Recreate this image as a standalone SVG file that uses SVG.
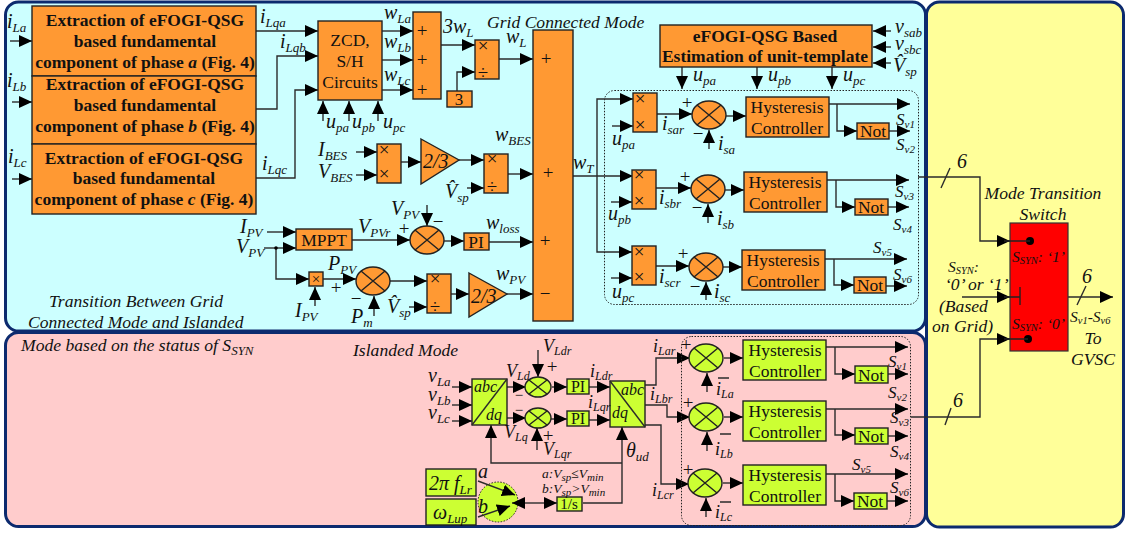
<svg xmlns="http://www.w3.org/2000/svg" width="1125" height="533" viewBox="0 0 1125 533">
<style>
text{font-family:"Liberation Serif","Times New Roman",serif;fill:#111}
.panel{stroke:#0c2a6e;stroke-width:3}
.o{fill:#ff9933;stroke:#222;stroke-width:1.4}
.g{fill:#ccff33;stroke:#222;stroke-width:1.4}
.r{fill:#ff0000;stroke:#333;stroke-width:1.2}
.w{fill:none;stroke:#2b2b2b;stroke-width:1.4}
.a{fill:none;stroke:#2b2b2b;stroke-width:1.4;marker-end:url(#arrow)}
.dot{fill:none;stroke:#222;stroke-width:1;stroke-dasharray:1.5 1.5}
.t{font-style:italic;font-size:20px}
.s{font-size:13px;baseline-shift:-4px}
.n{font-style:italic;font-size:17.6px}
.bt{font-weight:bold;font-size:17.5px;text-anchor:middle}
.c{font-size:17.5px;text-anchor:middle}
.m{font-size:15px;text-anchor:middle}
.p{font-size:19px;text-anchor:middle}
.e{font-style:italic;font-size:16px}
.sm{font-style:italic;font-size:13.5px}
.sm .s{font-size:11px;baseline-shift:-3px}
.sw{font-style:italic;font-size:15.5px}
.sw .s{font-size:10.5px;baseline-shift:-2px}
.sv{font-style:italic;font-size:17px}
.sv .s{font-size:11px;baseline-shift:-3px}
.il{font-style:italic;font-size:18px}
.il .s{font-size:12px;baseline-shift:-3px}
</style>
<defs>
<marker id="arrow" markerUnits="userSpaceOnUse" markerWidth="14" markerHeight="13" refX="13" refY="6" orient="auto"><path d="M0,0L13,6L0,12Z" fill="#000"/></marker>
<g id="sum"><ellipse rx="17" ry="14"/><path d="M-12,-10L12,10M-12,10L12,-10" fill="none"/></g>
<g id="sumS"><ellipse rx="13" ry="10"/><path d="M-9,-7L9,7M-9,7L9,-7" fill="none"/></g>
</defs>

<g id="panels">
<rect class="panel" x="5.500" y="2" width="920" height="329" rx="13" fill="#ccffff"/>
<rect class="panel" x="5.500" y="332.500" width="920" height="194" rx="13" fill="#ffcccc"/>
<rect class="panel" x="926.500" y="2" width="197" height="525" rx="13" fill="#ffff99"/>
</g>

<g id="selector"><circle cx="498" cy="502" r="20" fill="#ccff33" stroke="#222" stroke-dasharray="1.5 1.5"/></g>

<g id="connectors">
<path class="a" d="M10,41H32"/><path class="a" d="M12,102H32"/><path class="a" d="M12,179H32"/>
<path class="a" d="M256,31H318"/><path class="a" d="M256,109H277V56H318"/><path class="a" d="M256,178H295V90H318"/>
<path class="a" d="M323,121V101"/><path class="a" d="M349,121V101"/><path class="a" d="M378,121V101"/>
<path class="a" d="M382,31H413"/><path class="a" d="M382,60H413"/><path class="a" d="M382,90H413"/>
<path class="a" d="M441,45H475"/><path class="a" d="M457,91V72H475"/><path class="a" d="M499,59H533"/>
<path class="a" d="M356,152H377"/><path class="a" d="M356,175H377"/><path class="a" d="M401,162H421"/>
<path class="a" d="M459,160H484"/><path class="a" d="M467,188H484"/><path class="a" d="M508,174H533"/>
<path class="a" d="M267,232H296"/><path class="a" d="M264,248H296"/><path class="a" d="M276,248V279H309"/>
<path class="a" d="M315,306V287"/><path class="a" d="M323,279H356"/><path class="a" d="M374,316V296"/>
<path class="a" d="M390,281H427"/><path class="a" d="M409,307H427"/><path class="a" d="M451,294H469"/><path class="a" d="M507,294H533"/>
<path class="a" d="M352,240H410"/><path class="a" d="M427,205V226"/><path class="a" d="M444,241H464"/><path class="a" d="M489,242H533"/>
<path class="a" d="M573,176H633"/><path class="a" d="M597,176V99H633"/><path class="a" d="M597,176V252H632"/>
<path class="a" d="M891,31H873"/><path class="a" d="M891,47H873"/><path class="a" d="M891,63H873"/>
<path class="a" d="M682,67V89"/><path class="a" d="M757,67V89"/><path class="a" d="M832,67V89"/>
<path class="a" d="M612,126H633"/><path class="a" d="M657,114H692"/><path class="a" d="M709,149V130"/><path class="a" d="M726,116H746"/>
<path class="a" d="M829,104H910"/><path class="a" d="M837,104V131H857"/><path class="a" d="M889,131H910"/>
<path class="a" d="M611,202H632"/><path class="a" d="M656,188H691"/><path class="a" d="M708,223V204"/><path class="a" d="M725,190H744"/>
<path class="a" d="M827,180H909"/><path class="a" d="M836,180V207H855"/><path class="a" d="M888,207H909"/>
<path class="a" d="M611,278H632"/><path class="a" d="M656,266H689"/><path class="a" d="M706,300V282"/><path class="a" d="M723,267H742"/>
<path class="a" d="M825,259H907"/><path class="a" d="M834,259V285H854"/><path class="a" d="M886,286H907"/>
<path class="a" d="M918,177H980V241H1010"/><path class="w" d="M941,188L950,168"/>
<path class="a" d="M911,417H980V339H1010"/><path class="w" d="M945,425L951,408"/>
<path class="a" d="M962,297H1010"/><path class="a" d="M1068,297H1113"/><path class="w" d="M1077,305L1086,286"/>
<path class="a" d="M452,387H472"/><path class="a" d="M452,405H472"/><path class="a" d="M452,421H472"/>
<path class="a" d="M507,387H526"/><path class="a" d="M507,418H526"/><path class="a" d="M538,350V377"/><path class="a" d="M537,450V428"/>
<path class="a" d="M552,387H567"/><path class="a" d="M551,419H567"/><path class="a" d="M589,387H610"/><path class="a" d="M589,420H610"/>
<path class="a" d="M583,503H622V427"/><path class="a" d="M622,463H491V425"/>
<path class="a" d="M478,481L515,495"/><path class="a" d="M478,517L510,506"/><path class="a" d="M530,503H512"/><path class="a" d="M530,503H557"/>
<path class="a" d="M645,385H656V358H690"/><path class="a" d="M645,405H667V417H690"/><path class="a" d="M645,425H661V484H689"/>
<path class="a" d="M707,392V373"/><path class="a" d="M724,358H743"/><path class="a" d="M826,347H908"/><path class="a" d="M835,347V374H855"/><path class="a" d="M888,374H908"/>
<path class="a" d="M707,451V432"/><path class="a" d="M724,417H743"/><path class="a" d="M826,409H908"/><path class="a" d="M835,409V435H855"/><path class="a" d="M888,436H908"/>
<path class="a" d="M706,517V498"/><path class="a" d="M723,483H743"/><path class="a" d="M826,474H908"/><path class="a" d="M835,474V501H854"/><path class="a" d="M887,501H908"/>
<path class="w" d="M718,378H729M720,434H731M720,502H731"/>
</g>

<g id="groups">
<rect class="dot" x="604.500" y="90.500" width="314" height="214" rx="10"/>
<rect class="dot" x="681.500" y="336.500" width="229" height="189" rx="10"/>
</g>

<g id="phase-a"><rect class="o" x="32" y="6" width="224" height="70"/>
<text class="bt" x="145" y="26">Extraction of eFOGI-QSG</text><text class="bt" x="145" y="47">based fundamental</text><text class="bt" x="145" y="68">component of phase <tspan font-style="italic">a</tspan> (Fig. 4)</text></g>
<g id="phase-b"><rect class="o" x="32" y="76" width="224" height="68"/>
<text class="bt" x="145" y="90">Extraction of eFOGI-QSG</text><text class="bt" x="145" y="111">based fundamental</text><text class="bt" x="145" y="132">component of phase <tspan font-style="italic">b</tspan> (Fig. 4)</text></g>
<g id="phase-c"><rect class="o" x="32" y="144" width="224" height="70"/>
<text class="bt" x="144" y="164">Extraction of eFOGI-QSG</text><text class="bt" x="144" y="184">based fundamental</text><text class="bt" x="144" y="205">component of phase <tspan font-style="italic">c</tspan> (Fig. 4)</text></g>

<g id="zcd"><rect class="o" x="318" y="21" width="64" height="79"/>
<text class="c" x="350" y="46">ZCD,</text><text class="c" x="350" y="67">S/H</text><text class="c" x="350" y="88">Circuits</text></g>
<g id="sum-w"><rect class="o" x="413" y="12" width="28" height="87"/>
<text class="p" x="422" y="37">+</text><text class="p" x="422" y="66">+</text><text class="p" x="422" y="96">+</text></g>
<g id="div-wl"><rect class="o" x="475" y="40" width="24" height="39"/>
<text class="p" x="483" y="52">×</text><text class="p" x="483" y="79">÷</text></g>
<g id="three"><rect class="o" x="447" y="91" width="25" height="16"/><text x="459" y="105" font-size="17" text-anchor="middle">3</text></g>
<g id="sum-t"><rect class="o" x="533" y="30" width="40" height="291"/>
<text class="p" x="546" y="65">+</text><text class="p" x="548" y="179">+</text><text class="p" x="545" y="247">+</text><text class="p" x="545" y="300">−</text></g>
<g id="mul-bes"><rect class="o" x="377" y="144" width="24" height="39"/><text class="p" x="384" y="156">×</text><text class="p" x="384" y="180">×</text></g>
<g id="gain-bes"><path class="o" d="M421,139L459,160L421,184Z"/><text x="423" y="168" font-size="20" font-style="italic">2/3</text></g>
<g id="div-bes"><rect class="o" x="484" y="154" width="24" height="39"/><text class="p" x="492" y="165">×</text><text class="p" x="492" y="193">÷</text></g>
<g id="mppt"><rect class="o" x="296" y="229" width="56" height="21"/><text class="c" x="324" y="246">MPPT</text></g>
<g id="mul-pv"><rect class="o" x="309" y="272" width="14" height="14"/><text class="m" x="316" y="284">×</text></g>
<g id="sum-p"><use href="#sum" x="373" y="281" class="o"/></g>
<g id="div-pv"><rect class="o" x="427" y="274" width="24" height="39"/><text class="p" x="435" y="285">×</text><text class="p" x="435" y="313">÷</text></g>
<g id="gain-pv"><path class="o" d="M469,273L507,294L469,317Z"/><text x="471" y="303" font-size="20" font-style="italic">2/3</text></g>
<g id="sum-v"><use href="#sum" x="427" y="240" class="o"/></g>
<g id="pi-v"><rect class="o" x="464" y="233" width="25" height="17"/><text class="c" x="476" y="248">PI</text></g>
<g id="unit"><rect class="o" x="660" y="25" width="212" height="42"/>
<text class="bt" x="765" y="42">eFOGI-QSG Based</text><text class="bt" x="765" y="62">Estimation of unit-template</text></g>

<g id="row-a"><rect class="o" x="633" y="93" width="24" height="39"/><text class="p" x="640" y="105">×</text><text class="p" x="640" y="131">×</text><use href="#sum" x="709" y="115" class="o"/>
<rect class="o" x="746" y="97" width="83" height="40"/><text class="c" x="787" y="113">Hysteresis</text><text class="c" x="787" y="134">Controller</text>
<rect class="o" x="857" y="123" width="32" height="16"/><text class="c" x="873" y="137">Not</text></g>
<g id="row-b"><rect class="o" x="632" y="170" width="24" height="39"/><text class="p" x="639" y="181">×</text><text class="p" x="639" y="207">×</text><use href="#sum" x="708" y="189" class="o"/>
<rect class="o" x="744" y="172" width="83" height="40"/><text class="c" x="785" y="188">Hysteresis</text><text class="c" x="785" y="209">Controller</text>
<rect class="o" x="855" y="199" width="33" height="16"/><text class="c" x="871" y="213">Not</text></g>
<g id="row-c"><rect class="o" x="632" y="246" width="24" height="39"/><text class="p" x="639" y="258">×</text><text class="p" x="639" y="283">×</text><use href="#sum" x="706" y="267" class="o"/>
<rect class="o" x="742" y="250" width="83" height="40"/><text class="c" x="783" y="266">Hysteresis</text><text class="c" x="783" y="287">Controller</text>
<rect class="o" x="854" y="277" width="32" height="16"/><text class="c" x="870" y="291">Not</text></g>

<g id="switch"><rect class="r" x="1010" y="223" width="58" height="128"/><circle cx="1030" cy="241" r="4" fill="#000"/><circle cx="1028" cy="339" r="4" fill="#000"/>
<path d="M1004,241H1030M1004,339H1028M1004,297H1020M1020,287V305" fill="none" stroke="#222" stroke-width="1.4"/>
<text class="sw" x="1012" y="262">S<tspan class="s">SYN</tspan>: ‘1’</text><text class="sw" x="1012" y="329">S<tspan class="s">SYN</tspan>: ‘0’</text></g>

<g id="abc-dq"><rect class="g" x="472" y="379" width="35" height="46"/><path class="w" d="M507,379L472,425"/><text class="e" x="474" y="392">abc</text><text class="e" x="486" y="420">dq</text></g>
<g id="sum-d"><use href="#sumS" x="538" y="387" class="g"/></g>
<g id="sum-q"><use href="#sumS" x="538" y="418" class="g"/></g>
<g id="pi-d"><rect class="g" x="567" y="379" width="22" height="15"/><text x="578" y="392" font-size="16" text-anchor="middle">PI</text></g>
<g id="pi-q"><rect class="g" x="567" y="411" width="22" height="15"/><text x="578" y="424" font-size="16" text-anchor="middle">PI</text></g>
<g id="dq-abc"><rect class="g" x="610" y="381" width="35" height="46"/><path class="w" d="M610,381L645,427"/><text class="e" x="621" y="395">abc</text><text class="e" x="612" y="418">dq</text></g>
<g id="f-lr"><rect class="g" x="426" y="469" width="50" height="27"/><text x="429" y="490" font-size="20" font-style="italic">2π f<tspan class="s">Lr</tspan></text></g>
<g id="w-lup"><rect class="g" x="426" y="499" width="50" height="26"/><text x="433" y="519" font-size="20" font-style="italic">ω<tspan class="s">Lup</tspan></text></g>
<g id="int"><rect class="g" x="557" y="497" width="25" height="14"/><text x="569" y="509" font-size="15" text-anchor="middle">1/s</text></g>

<g id="row-1"><use href="#sum" x="706" y="358" class="g"/><rect class="g" x="743" y="340" width="83" height="40"/><text class="c" x="785" y="356">Hysteresis</text><text class="c" x="785" y="377">Controller</text><rect class="g" x="855" y="366" width="33" height="17"/><text class="c" x="871" y="381">Not</text></g>
<g id="row-2"><use href="#sum" x="706" y="417" class="g"/><rect class="g" x="743" y="401" width="83" height="40"/><text class="c" x="785" y="417">Hysteresis</text><text class="c" x="785" y="438">Controller</text><rect class="g" x="855" y="428" width="33" height="16"/><text class="c" x="871" y="442">Not</text></g>
<g id="row-3"><use href="#sum" x="705" y="483" class="g"/><rect class="g" x="743" y="465" width="83" height="40"/><text class="c" x="785" y="481">Hysteresis</text><text class="c" x="785" y="502">Controller</text><rect class="g" x="854" y="493" width="33" height="16"/><text class="c" x="870" y="507">Not</text></g>

<circle cx="276" cy="248" r="1.800" fill="#000"/>

<g id="labels">
<text class="t" x="7" y="28">i<tspan class="s">La</tspan></text><text class="t" x="7" y="87">i<tspan class="s">Lb</tspan></text><text class="t" x="8" y="163">i<tspan class="s">Lc</tspan></text>
<text class="t" x="260" y="23">i<tspan class="s">Lqa</tspan></text><text class="t" x="280" y="48">i<tspan class="s">Lqb</tspan></text><text class="t" x="262" y="170">i<tspan class="s">Lqc</tspan></text>
<text class="t" x="326" y="128">u<tspan class="s">pa</tspan></text><text class="t" x="352" y="128">u<tspan class="s">pb</tspan></text><text class="t" x="383" y="128">u<tspan class="s">pc</tspan></text>
<text class="t" x="384" y="19">w<tspan class="s">La</tspan></text><text class="t" x="384" y="48">w<tspan class="s">Lb</tspan></text><text class="t" x="384" y="81">w<tspan class="s">Lc</tspan></text>
<text class="t" x="443" y="33">3w<tspan class="s">L</tspan></text><text class="t" x="506" y="43">w<tspan class="s">L</tspan></text>
<text class="n" x="487" y="28">Grid Connected Mode</text>
<text class="t" x="318" y="156">I<tspan class="s">BES</tspan></text><text class="t" x="318" y="178">V<tspan class="s">BES</tspan></text>
<text class="t" x="495" y="141">w<tspan class="s">BES</tspan></text><text class="t" x="573" y="169">w<tspan class="s">T</tspan></text>
<text class="t" x="445" y="198">V̂<tspan class="s">sp</tspan></text>
<text class="t" x="240" y="233">I<tspan class="s">PV</tspan></text><text class="t" x="236" y="253">V<tspan class="s">PV</tspan></text>
<text class="t" x="295" y="317">I<tspan class="s">PV</tspan></text><text class="t" x="328" y="270">P<tspan class="s">PV</tspan></text>
<text class="p" x="336" y="294">+</text><text class="p" x="356" y="305">−</text>
<text class="t" x="351" y="323">P<tspan class="s">m</tspan></text><text class="t" x="387" y="313">V̂<tspan class="s">sp</tspan></text>
<text class="t" x="358" y="233">V<tspan class="s">PVr</tspan></text><text class="p" x="404" y="235">+</text><text class="t" x="391" y="215">V<tspan class="s">PV</tspan></text><text class="p" x="438" y="228">−</text>
<text class="t" x="486" y="229">w<tspan class="s">loss</tspan></text><text class="t" x="496" y="280">w<tspan class="s">PV</tspan></text>
<text class="t" x="895" y="33">v<tspan class="s">sab</tspan></text><text class="t" x="895" y="50">v<tspan class="s">sbc</tspan></text><text class="t" x="893" y="72">V̂<tspan class="s">sp</tspan></text>
<text class="t" x="693" y="81">u<tspan class="s">pa</tspan></text><text class="t" x="768" y="81">u<tspan class="s">pb</tspan></text><text class="t" x="843" y="81">u<tspan class="s">pc</tspan></text>
<text class="t" x="612" y="145">u<tspan class="s">pa</tspan></text><text class="t" x="662" y="130">i<tspan class="s">sar</tspan></text><text class="p" x="687" y="109">+</text><text class="p" x="698" y="140">−</text><text class="t" x="718" y="150">i<tspan class="s">sa</tspan></text>
<text class="sv" x="896" y="125">S<tspan class="s">v1</tspan></text><text class="sv" x="896" y="150">S<tspan class="s">v2</tspan></text>
<text class="t" x="608" y="220">u<tspan class="s">pb</tspan></text><text class="t" x="659" y="204">i<tspan class="s">sbr</tspan></text><text class="p" x="685" y="183">+</text><text class="p" x="697" y="214">−</text><text class="t" x="717" y="225">i<tspan class="s">sb</tspan></text>
<text class="sv" x="895" y="197">S<tspan class="s">v3</tspan></text><text class="sv" x="893" y="230">S<tspan class="s">v4</tspan></text>
<text class="t" x="612" y="298">u<tspan class="s">pc</tspan></text><text class="t" x="659" y="283">i<tspan class="s">scr</tspan></text><text class="p" x="683" y="260">+</text><text class="p" x="695" y="293">−</text><text class="t" x="714" y="298">i<tspan class="s">sc</tspan></text>
<text class="sv" x="873" y="253">S<tspan class="s">v5</tspan></text><text class="sv" x="893" y="280">S<tspan class="s">v6</tspan></text>
<text class="t" x="957" y="168">6</text><text class="t" x="953" y="407">6</text><text class="t" x="1082" y="283">6</text>
<text class="n" x="1043" y="199" text-anchor="middle">Mode Transition</text><text class="n" x="1043" y="220" text-anchor="middle">Switch</text>
<text class="sw" x="948" y="272">S<tspan class="s">SYN</tspan>:</text><text class="n" x="945" y="290">‘0’ or ‘1’</text><text class="n" x="939" y="312">(Based</text><text class="n" x="932" y="332">on Grid)</text>
<text class="sw" x="1070" y="322">S<tspan class="s">v1</tspan>-S<tspan class="s">v6</tspan></text><text class="n" x="1093" y="344" text-anchor="middle">To</text><text class="n" x="1093" y="365" text-anchor="middle">GVSC</text>
<text class="n" x="49" y="307">Transition Between Grid</text><text class="n" x="28" y="328">Connected Mode and Islanded</text><text class="n" x="21" y="351">Mode based on the status of S<tspan class="s">SYN</tspan></text>
<text class="n" x="353" y="356">Islanded Mode</text>
<text class="t" x="428" y="382">v<tspan class="s">La</tspan></text><text class="t" x="428" y="401">v<tspan class="s">Lb</tspan></text><text class="t" x="428" y="419">v<tspan class="s">Lc</tspan></text>
<text class="il" x="506" y="377">V<tspan class="s">Ld</tspan></text><text class="il" x="504" y="438">V<tspan class="s">Lq</tspan></text><text class="il" x="543" y="352">V<tspan class="s">Ldr</tspan></text><text class="il" x="543" y="455">V<tspan class="s">Lqr</tspan></text>
<text class="m" x="519" y="400">−</text><text class="m" x="519" y="415">−</text><text class="p" x="552" y="373">+</text><text class="p" x="548" y="442">+</text>
<text class="il" x="590" y="377">i<tspan class="s">Ldr</tspan></text><text class="il" x="588" y="408">i<tspan class="s">Lqr</tspan></text>
<text class="t" x="626" y="457">θ<tspan class="s">ud</tspan></text>
<text class="t" x="478" y="478">a</text><text class="t" x="478" y="513">b</text>
<text class="sm" x="542" y="478">a:V<tspan class="s">sp</tspan>≤V<tspan class="s">min</tspan></text><text class="sm" x="542" y="493">b:V<tspan class="s">sp</tspan>&gt;V<tspan class="s">min</tspan></text>
<text class="il" x="653" y="352">i<tspan class="s">Lar</tspan></text><text class="il" x="650" y="400">i<tspan class="s">Lbr</tspan></text><text class="il" x="652" y="496">i<tspan class="s">Lcr</tspan></text>
<text class="p" x="686" y="351">+</text><text class="p" x="688" y="409">+</text><text class="p" x="688" y="476">+</text>
<text class="il" x="716" y="395">i<tspan class="s">La</tspan></text><text class="il" x="715" y="455">i<tspan class="s">Lb</tspan></text><text class="il" x="715" y="518">i<tspan class="s">Lc</tspan></text>
<text class="sv" x="888" y="367">S<tspan class="s">v1</tspan></text><text class="sv" x="888" y="398">S<tspan class="s">v2</tspan></text><text class="sv" x="890" y="423">S<tspan class="s">v3</tspan></text><text class="sv" x="890" y="457">S<tspan class="s">v4</tspan></text><text class="sv" x="852" y="470">S<tspan class="s">v5</tspan></text><text class="sv" x="890" y="493">S<tspan class="s">v6</tspan></text>
</g>
</svg>
